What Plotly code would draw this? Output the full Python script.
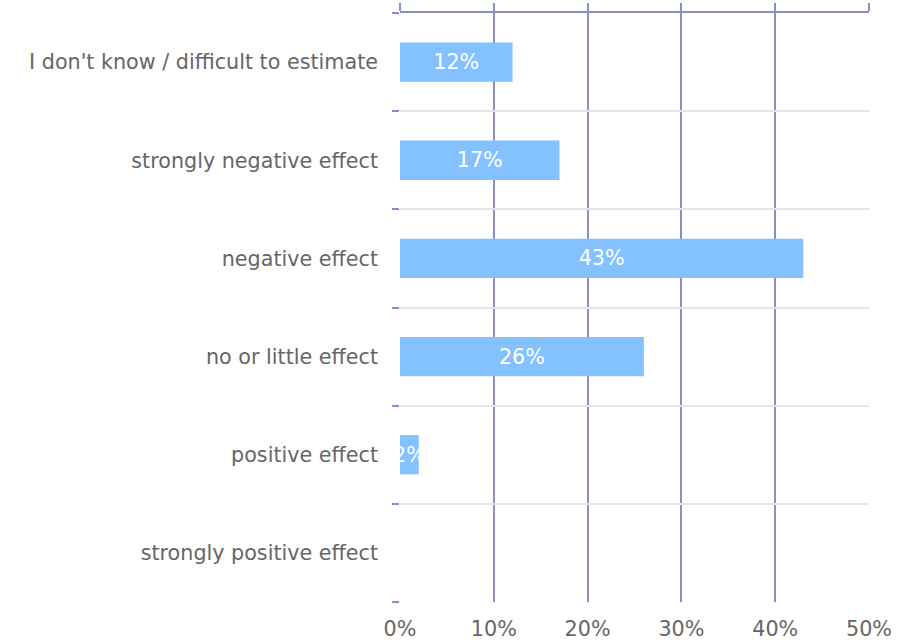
import plotly.graph_objects as go

categories = [
    "strongly positive effect",
    "positive effect",
    "no or little effect",
    "negative effect",
    "strongly negative effect",
    "I don't know / difficult to estimate",
]
values = [0, 2, 26, 43, 17, 12]
labels = ["", "2%", "26%", "43%", "17%", "12%"]
x_ticks = [0, 10, 20, 30, 40, 50]
x_tick_text = ["0%", "10%", "20%", "30%", "40%", "50%"]

PURPLE = "#8a8fc4"
GRAY_TXT = "#666666"
FONT = "DejaVu Sans"
FS = 20.7

fig = go.Figure()
fig.add_trace(go.Bar(
    y=categories, x=values, orientation="h",
    marker=dict(color="#84c1ff", line=dict(width=0)),
    width=0.4,
    text=labels, textposition="inside", insidetextanchor="middle",
    textangle=0,
    textfont=dict(color="white", size=FS, family=FONT),
    hoverinfo="skip",
))
# invisible trace on top axis so it renders
fig.add_trace(go.Scatter(x=[0, 50], y=[categories[0], categories[0]], xaxis="x2",
                         mode="markers", marker=dict(opacity=0), hoverinfo="skip",
                         showlegend=False))

fig.update_layout(
    width=913, height=640,
    margin=dict(l=400, r=44, t=13, b=38),
    paper_bgcolor="white", plot_bgcolor="white",
    showlegend=False,
    font=dict(family=FONT, size=FS, color=GRAY_TXT),
    uniformtext=dict(minsize=FS, mode="show"),
    xaxis=dict(range=[0, 50], tickvals=x_ticks, ticktext=x_tick_text,
               showgrid=True, gridcolor=PURPLE, gridwidth=2,
               zeroline=False, showline=False, ticks="", automargin=False,
               ticklabelstandoff=12, tickfont=dict(size=FS, color=GRAY_TXT)),
    xaxis2=dict(range=[0, 50], overlaying="x", side="top", tickvals=x_ticks,
                ticks="outside", ticklen=8, tickcolor=PURPLE, tickwidth=2,
                showticklabels=False, showgrid=False, zeroline=False,
                automargin=False,
                showline=True, linecolor=PURPLE, linewidth=2),
    yaxis=dict(type="category", categoryorder="array", categoryarray=categories,
               tickson="boundaries", ticks="outside", ticklen=7, tickcolor=PURPLE,
               tickwidth=2, showgrid=True, gridcolor="#e6e6e6", gridwidth=2,
               zeroline=False, showline=False, ticklabelstandoff=21,
               automargin=False,
               tickfont=dict(size=FS, color=GRAY_TXT)),
)

fig.write_html("out.html", config={"displayModeBar": False},
               post_script="document.body.style.margin='0';document.body.style.overflow='hidden';")
